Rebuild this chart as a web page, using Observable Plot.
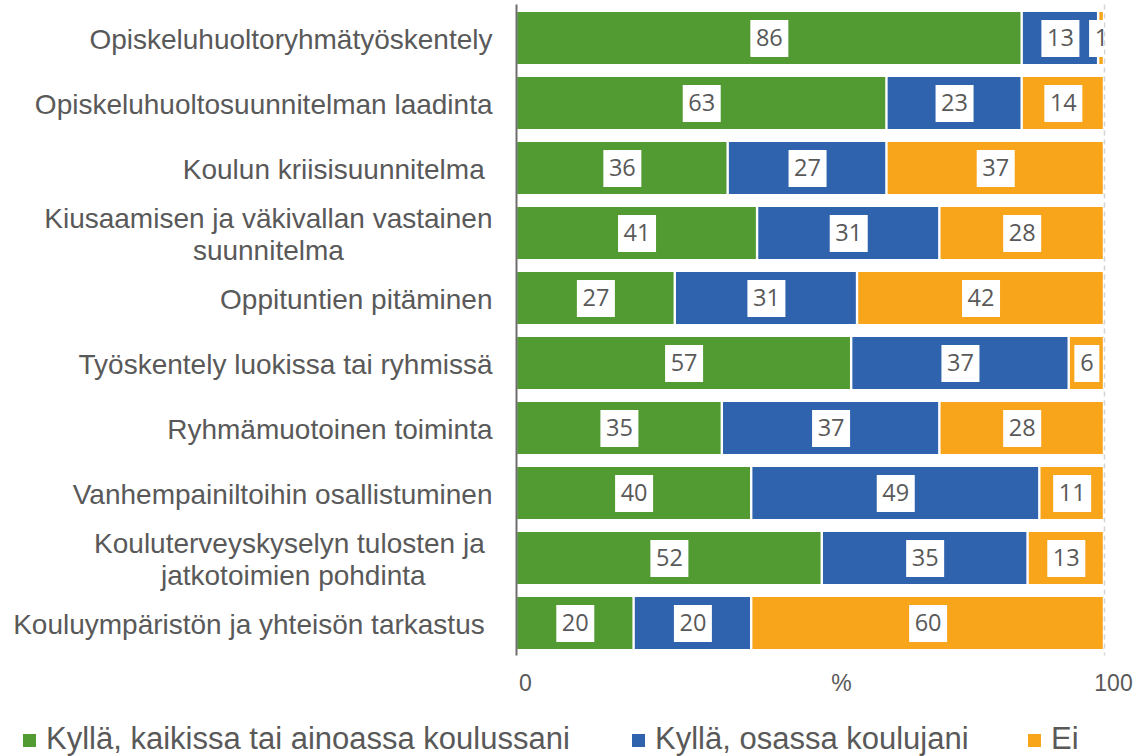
<!DOCTYPE html>
<html>
<head>
<meta charset="utf-8">
<script src="https://cdn.jsdelivr.net/npm/d3@7"></script>
<script src="https://cdn.jsdelivr.net/npm/@observablehq/plot@0.6"></script>
<style>
  html, body { margin: 0; padding: 0; background: #fff; }
  #wrap { width: 1136px; height: 756px; position: relative; font-family: "Liberation Sans", Arial, sans-serif; color: #595959; }
  #legend { position: absolute; left: 0; top: 712px; width: 1136px; height: 44px; }
  .item { position: absolute; top: 12px; height: 30px; line-height: 30px; font-size: 31px; white-space: nowrap; }
  .sw { position: absolute; left: 0; top: 10px; width: 13px; height: 13px; }
  .lbl { position: absolute; left: 23px; top: 0; }
</style>
</head>
<body>
<div id="wrap"><div id="chart"></div><div id="legend"></div></div>
<script>
const categories = [
  "Opiskeluhuoltoryhmätyöskentely",
  "Opiskeluhuoltosuunnitelman laadinta",
  "Koulun kriisisuunnitelma\u00a0",
  "Kiusaamisen ja väkivallan vastainen\nsuunnitelma",
  "Oppituntien pitäminen",
  "Työskentely luokissa tai ryhmissä",
  "Ryhmämuotoinen toiminta",
  "Vanhempainiltoihin osallistuminen",
  "Kouluterveyskyselyn tulosten ja\u00a0\njatkotoimien pohdinta",
  "Kouluympäristön ja yhteisön tarkastus\u00a0"
];
const seriesNames = ["Kyllä, kaikissa tai ainoassa koulussani", "Kyllä, osassa koulujani", "Ei"];
const seriesColors = ["#519b32", "#2f63ae", "#f9a51c"];
const allSchools = [86, 63, 36, 41, 27, 57, 35, 40, 52, 20];
const someSchools = [13, 23, 27, 31, 31, 37, 37, 49, 35, 20];
const noSchools = [1, 14, 37, 28, 42, 6, 28, 11, 13, 60];
const xTicks = [0, 100];
const axisTitle = "%";

const seriesValues = [allSchools, someSchools, noSchools];
const rows = [];
categories.forEach((c, i) => {
  seriesNames.forEach((s, j) => rows.push({category: c, series: s, value: seriesValues[j][i]}));
});

const boxWide = {draw(ctx) { ctx.rect(-19, -18.5, 38, 37); }};
const boxNarrow = {draw(ctx) { ctx.rect(-12.5, -18.5, 25, 37); }};

const stackOpts = {x: "value", y: "category", order: null};

const chart = Plot.plot({
  width: 1136,
  height: 712,
  marginLeft: 516,
  marginRight: 32,
  marginTop: 4.5,
  marginBottom: 56.5,
  style: {fontFamily: "'Liberation Sans', Arial, sans-serif", color: "#595959", background: "#fff", overflow: "visible"},
  x: {domain: [0, 100]},
  y: {domain: categories, paddingInner: 0.2, paddingOuter: 0.1},
  color: {domain: seriesNames, range: seriesColors},
  marks: [
    Plot.ruleX([100], {stroke: "#d4d4d4", strokeWidth: 1.5, strokeDasharray: "5,4"}),
    Plot.barX(rows, Plot.stackX({...stackOpts, fill: "series", insetLeft: 1.2, insetRight: 1.2})),
    Plot.dot(rows, Plot.filter(d => d.value >= 10, Plot.stackX({...stackOpts, symbol: boxWide, fill: "white", stroke: "none", clip: true}))),
    Plot.dot(rows, Plot.filter(d => d.value < 10, Plot.stackX({...stackOpts, symbol: boxNarrow, fill: "white", stroke: "none", clip: true}))),
    Plot.text(rows, Plot.stackX({...stackOpts, text: d => String(d.value), fill: "#595959", fontSize: 23.5, fontFamily: "'Open Sans', sans-serif", clip: true})),
    Plot.ruleX([0], {stroke: "#6e6e6e", strokeWidth: 2}),
    Plot.axisY({tickSize: 0, tickPadding: 24, fontSize: 28, lineHeight: 1.14, label: null}),
    Plot.axisX({ticks: xTicks, tickSize: 0, tickPadding: 19, fontSize: 23, dx: 9, label: null}),
    Plot.text([axisTitle], {frameAnchor: "bottom", dx: 31, dy: 19, lineAnchor: "top", fontSize: 23, fill: "currentColor"})
  ]
});
document.getElementById("chart").appendChild(chart);

// center multi-line category labels (as in the original)
chart.querySelectorAll('g[aria-label="y-axis tick label"] text').forEach(t => {
  const spans = t.querySelectorAll("tspan");
  if (spans.length > 1) {
    let w = 0;
    spans.forEach(s => { w = Math.max(w, s.getComputedTextLength()); });
    t.setAttribute("text-anchor", "middle");
    spans.forEach(s => s.setAttribute("x", String(-w / 2)));
  }
});

const legendLefts = [23, 632, 1028];
const legend = document.getElementById("legend");
seriesNames.forEach((s, i) => {
  const it = document.createElement("div");
  it.className = "item";
  it.style.left = legendLefts[i] + "px";
  it.innerHTML = `<span class="sw" style="background:${seriesColors[i]}"></span><span class="lbl">${s}</span>`;
  legend.appendChild(it);
});
</script>
</body>
</html>
